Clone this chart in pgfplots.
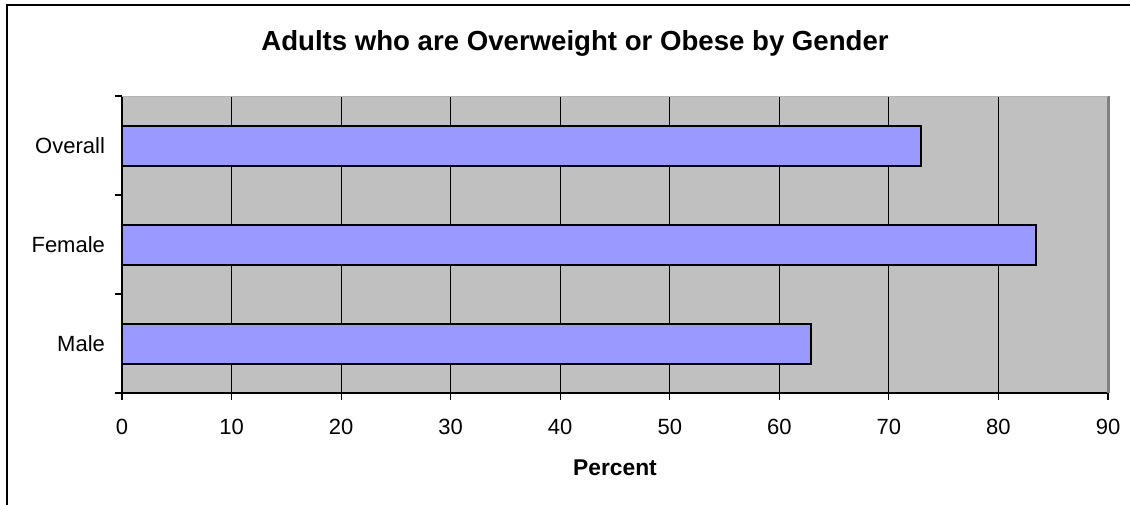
\documentclass[border=0pt]{standalone}
\usepackage{fontspec}
\setmainfont{Liberation Sans}
\usepackage{pgfplots}
\pgfplotsset{compat=1.18}
\definecolor{plotgray}{HTML}{C0C0C0}
\definecolor{barblue}{HTML}{9999FF}
\definecolor{edgegray}{HTML}{808080}
\begin{document}
\begin{tikzpicture}
\useasboundingbox (-61pt,-55.5pt) rectangle (504pt,196.5pt);
\begin{axis}[
  at={(0,0)}, anchor=south west,
  scale only axis, width=493pt, height=148.5pt,
  xmin=0, xmax=90, ymin=-0.5, ymax=2.5,
  xtick={0,10,...,90},
  ytick={-0.5,0.5,1.5,2.5},
  yticklabels={},
  extra y ticks={0,1,2},
  extra y tick labels={Male,Female,Overall},
  extra y tick style={major tick length=0pt, grid=none},
  axis x line*=bottom, axis y line*=left,
  axis line style={black, line width=0.6pt, -},
  xmajorgrids, major grid style={black, line width=0.5pt},
  ymajorgrids=false,
  tick style={black, line width=0.6pt},
  major tick length=3.5pt,
  tick align=outside,
  axis background/.style={fill=plotgray},
  /pgf/number format/assume math mode=true,
  xticklabel style={font=\fontsize{11}{13}\selectfont, yshift=-6pt},
  yticklabel style={font=\fontsize{11}{13}\selectfont, xshift=-5pt},
  clip=false,
]
\addplot[xbar, bar width=20pt, bar shift=0pt, fill=barblue, draw=black, line width=1pt]
  coordinates {(62.9,0) (83.4,1) (72.9,2)};
\draw[edgegray, line width=1.5pt] (axis cs:90,-0.5) -- (axis cs:90,2.5);
\draw[edgegray!60, line width=0.5pt] (axis cs:0,2.5) -- (axis cs:90,2.5);
\end{axis}
\node[font=\bfseries\fontsize{13.8}{16}\selectfont] at (226.5pt,175pt) {Adults who are Overweight or Obese by Gender};
\node[font=\bfseries\fontsize{11.4}{14}\selectfont] at (246.5pt,-37.5pt) {Percent};
\draw[black, line width=1pt] (-57.5pt,-60pt) -- (-57.5pt,194pt) -- (510pt,194pt);
\end{tikzpicture}
\end{document}
